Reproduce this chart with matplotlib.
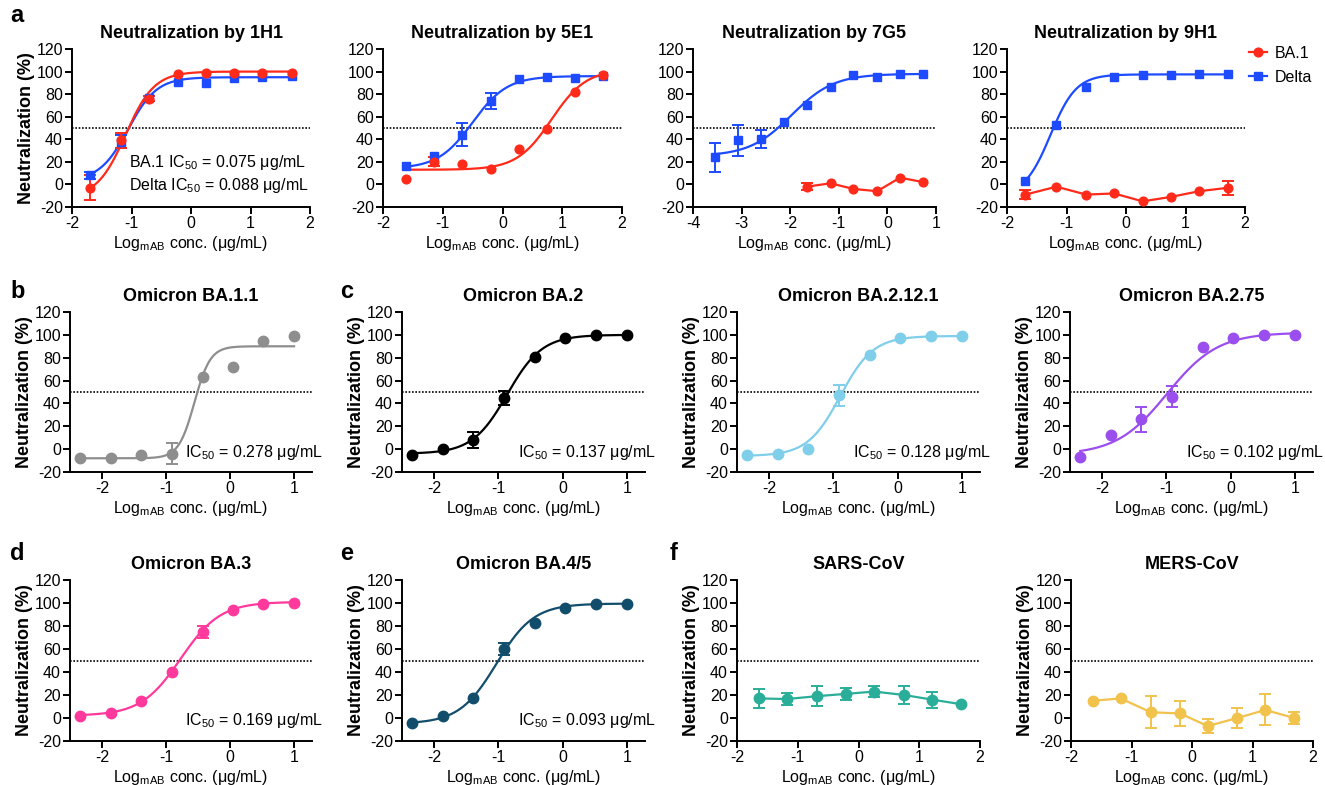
import numpy as np
import matplotlib
matplotlib.use('Agg')
import matplotlib.pyplot as plt
from matplotlib.transforms import blended_transform_factory

plt.rcParams['font.family'] = ['Liberation Sans', 'DejaVu Sans']
plt.rcParams['mathtext.fontset'] = 'custom'
plt.rcParams['mathtext.rm'] = 'Liberation Sans'
plt.rcParams['mathtext.it'] = 'Liberation Sans:italic'
plt.rcParams['mathtext.bf'] = 'Liberation Sans:bold'
plt.rcParams['axes.unicode_minus'] = False

# ---------------- data ----------------
# Row a: four antibodies, BA.1 and Delta
x_1h1 = [-1.70, -1.17, -0.70, -0.22, 0.25, 0.73, 1.20, 1.70]
ba1_1h1 = [-3, 39, 76, 98, 99, 99, 99, 99]
ba1_1h1_err = [11, 7, 2, 0, 0, 0, 0, 0]
delta_1h1 = [8, 38, 77, 91, 90, 94, 95, 96]
delta_1h1_err = [3, 6, 0, 0, 0, 0, 0, 0]
fit_1h1_ba1 = [-12, 100, -1.10, 1.8]     # bottom, top, logIC50, hill
fit_1h1_delta = [3, 95, -1.056, 1.8]

x_5e1 = [-1.62, -1.15, -0.68, -0.20, 0.27, 0.74, 1.22, 1.69]
ba1_5e1 = [5, 20, 18, 14, 31, 49, 82, 97]
ba1_5e1_err = [0, 4, 0, 0, 0, 0, 0, 0]
delta_5e1 = [16, 25, 44, 74, 93, 95, 94, 96]
delta_5e1_err = [0, 0, 10, 7, 0, 0, 0, 0]
fit_5e1_ba1 = [13, 102, 0.82, 1.5]
fit_5e1_delta = [14, 96, -0.50, 1.5]

x_7g5_delta = [-3.55, -3.07, -2.60, -2.13, -1.66, -1.17, -0.70, -0.21, 0.26, 0.74]
delta_7g5 = [24, 39, 40, 55, 70, 86, 97, 95, 98, 98]
delta_7g5_err = [13, 14, 8, 0, 0, 0, 0, 0, 0, 0]
fit_7g5_delta = [25, 98, -1.97, 1.0]
x_7g5_ba1 = [-1.66, -1.17, -0.70, -0.21, 0.26, 0.74]
ba1_7g5 = [-2, 1, -4, -6, 6, 2]
ba1_7g5_err = [3, 0, 0, 0, 0, 0]

x_9h1 = [-1.69, -1.17, -0.67, -0.20, 0.28, 0.76, 1.23, 1.71]
ba1_9h1 = [-9, -2, -9, -8, -15, -11, -6, -3]
ba1_9h1_err = [4, 0, 0, 0, 0, 0, 0, 6]
delta_9h1 = [3, 53, 86, 95, 97, 97, 98, 98]
delta_9h1_err = [0, 0, 0, 0, 0, 0, 0, 0]
fit_9h1_delta = [-10, 97.5, -1.27, 2.0]

# Rows b-e: 3-fold dilutions
x_omicron = [-2.34, -1.86, -1.39, -0.91, -0.43, 0.04, 0.52, 1.00]
ba11 = [-8, -8, -5, -4, 63, 72, 95, 99]
ba11_err = [0, 0, 0, 9, 0, 0, 0, 0]
fit_ba11 = [-8, 90, -0.556, 3.5]
ba2 = [-5, 0, 8, 45, 81, 97, 99.5, 100]
ba2_err = [0, 0, 7, 6, 0, 0, 0, 0]
fit_ba2 = [-4, 100, -0.863, 1.6]
ba2121 = [-5, -4, 0, 47, 82, 97, 99, 99]
ba2121_err = [0, 0, 0, 9, 0, 0, 0, 0]
fit_ba2121 = [-6, 99, -0.893, 1.7]
ba275 = [-7, 12, 26, 46, 89, 97, 99.5, 100]
ba275_err = [0, 0, 11, 9, 0, 0, 0, 0]
fit_ba275 = [-5, 102, -0.99, 1.1]
ba3 = [2, 4, 15, 40, 75, 94, 99.5, 100]
ba3_err = [0, 0, 0, 0, 5, 0, 0, 0]
fit_ba3 = [2, 101, -0.772, 1.4]
ba45 = [-4, 2, 17, 60, 83, 96, 99, 99.5]
ba45_err = [0, 0, 0, 5, 0, 0, 0, 0]
fit_ba45 = [-5, 99.5, -1.03, 1.5]

# Row f
x_cov = [-1.64, -1.18, -0.68, -0.20, 0.26, 0.75, 1.21, 1.69]
sars = [17, 16.5, 19, 21, 23, 20, 16, 12]
sars_err = [8, 5, 8.5, 5, 5, 8, 7, 0]
mers = [15, 17, 5, 4, -7, 0, 7, 0]
mers_err = [0, 0, 14, 11, 6, 9, 13.5, 5]

ic50_text = {
    'ba11': '0.278', 'ba2': '0.137', 'ba2121': '0.128', 'ba275': '0.102',
    'ba3': '0.169', 'ba45': '0.093', 'ba1_1h1': '0.075', 'delta_1h1': '0.088'}

# ---------------- style ----------------
RED = '#FF2A1A'
BLUE = '#1E4BFF'
GRAY = '#8E8E8E'
BLACK = '#000000'
LBLUE = '#7FCEEA'
PURPLE = '#9A4EEE'
PINK = '#FF3A9C'
TEAL = '#124E6C'
GREEN = '#2BAE99'
YELLOW = '#F1C24C'

W, H = 1325, 785
fig = plt.figure(figsize=(W / 100, H / 100), dpi=100)

XLABEL = r'Log$_{\mathregular{mAB}}$ conc. (μg/mL)'
YLABEL = 'Neutralization (%)'
TICK_FS = 11.5
TXT_FS = 11.5


def add_ax(l, t, r, b):
    return fig.add_axes([l / W, 1 - b / H, (r - l) / W, (b - t) / H])


def style(ax, xlim, xticks, title, ylabel=True):
    ax.set_xlim(*xlim)
    ax.set_ylim(-20, 120)
    ax.set_xticks(xticks)
    ax.set_yticks(range(-20, 121, 20))
    for s in ['top', 'right']:
        ax.spines[s].set_visible(False)
    for s in ['left', 'bottom']:
        ax.spines[s].set_linewidth(1.4)
    ax.tick_params(width=1.4, length=5, labelsize=TICK_FS, pad=1.5)
    ax.axhline(50, color='black', ls=(0, (1, 1)), lw=1.2, zorder=1)
    ax.set_title(title, fontsize=13, fontweight='bold', pad=8)
    ax.set_xlabel(XLABEL, fontsize=11.5, labelpad=2)
    if ylabel:
        ax.set_ylabel(YLABEL, fontsize=13, fontweight='bold', labelpad=1)


def logistic(x, p):
    bottom, top, c, h = p
    return bottom + (top - bottom) / (1 + 10 ** (h * (c - x)))


def fit_series(ax, x, y, err, fit, color, marker, ms):
    xs = np.linspace(min(x), max(x), 300)
    ax.plot(xs, logistic(xs, fit), color=color, lw=1.6, zorder=2)
    ax.plot(x, y, ls='none', marker=marker, color=color, ms=ms, zorder=3)
    errbars(ax, x, y, err, color)


def line_series(ax, x, y, err, color, marker, ms):
    ax.plot(x, y, color=color, marker=marker, ms=ms, lw=1.6, zorder=3)
    errbars(ax, x, y, err, color)


def errbars(ax, x, y, err, color):
    xe = [a for a, e in zip(x, err) if e > 0]
    ye = [b for b, e in zip(y, err) if e > 0]
    ee = [e for e in err if e > 0]
    if ee:
        ax.errorbar(xe, ye, yerr=ee, fmt='none', ecolor=color, elinewidth=1.4,
                    capsize=4, capthick=1.4, zorder=2.5)


def ic50(ax, label, y, xfrac=1.045):
    tr = blended_transform_factory(ax.transAxes, ax.transData)
    ax.text(xfrac, y, r'IC$_{\mathregular{50}}$ = ' + label + ' μg/mL',
            transform=tr, ha='right', va='center', fontsize=TXT_FS)


MS1 = 6.3
MS2 = 7.5

# ---- row a ----
ax = add_ax(72, 49, 310, 207)
style(ax, (-2, 2), [-2, -1, 0, 1, 2], 'Neutralization by 1H1')
fit_series(ax, x_1h1, delta_1h1, delta_1h1_err, fit_1h1_delta, BLUE, 's', MS1)
fit_series(ax, x_1h1, ba1_1h1, ba1_1h1_err, fit_1h1_ba1, RED, 'o', MS1)
ax.text(-1.04, 19, r'BA.1 IC$_{\mathregular{50}}$ = ' + ic50_text['ba1_1h1'] + ' μg/mL',
        fontsize=TXT_FS, va='center')
ax.text(-1.04, -1, r'Delta IC$_{\mathregular{50}}$ = ' + ic50_text['delta_1h1'] + ' μg/mL',
        fontsize=TXT_FS, va='center')

ax = add_ax(383, 49, 622, 207)
style(ax, (-2, 2), [-2, -1, 0, 1, 2], 'Neutralization by 5E1', ylabel=False)
fit_series(ax, x_5e1, delta_5e1, delta_5e1_err, fit_5e1_delta, BLUE, 's', MS1)
fit_series(ax, x_5e1, ba1_5e1, ba1_5e1_err, fit_5e1_ba1, RED, 'o', MS1)

ax = add_ax(693, 49, 936, 207)
style(ax, (-4, 1), [-4, -3, -2, -1, 0, 1], 'Neutralization by 7G5', ylabel=False)
fit_series(ax, x_7g5_delta, delta_7g5, delta_7g5_err, fit_7g5_delta, BLUE, 's', MS1)
line_series(ax, x_7g5_ba1, ba1_7g5, ba1_7g5_err, RED, 'o', MS1)

ax = add_ax(1007, 49, 1245, 207)
style(ax, (-2, 2), [-2, -1, 0, 1, 2], 'Neutralization by 9H1', ylabel=False)
fit_series(ax, x_9h1, delta_9h1, delta_9h1_err, fit_9h1_delta, BLUE, 's', MS1)
line_series(ax, x_9h1, ba1_9h1, ba1_9h1_err, RED, 'o', MS1)
h1, = ax.plot([], [], color=RED, marker='o', ms=MS1, lw=1.6, label='BA.1')
h2, = ax.plot([], [], color=BLUE, marker='s', ms=MS1, lw=1.6, label='Delta')
ax.legend(handles=[h1, h2], loc='upper left', bbox_to_anchor=(1.01, 1.03),
          frameon=False, fontsize=11.5, handlelength=1.1, handletextpad=0.5,
          labelspacing=0.55, borderaxespad=0, borderpad=0.1)

# ---- rows b-e ----
XL2 = (-2.5, 1.28)
XT2 = [-2, -1, 0, 1]
row2 = [
    ((70, 312, 312, 472), 'Omicron BA.1.1', ba11, ba11_err, fit_ba11, GRAY, ic50_text['ba11'], -3),
    ((402, 312, 645, 472), 'Omicron BA.2', ba2, ba2_err, fit_ba2, BLACK, ic50_text['ba2'], -3),
    ((737, 312, 980, 472), 'Omicron BA.2.12.1', ba2121, ba2121_err, fit_ba2121, LBLUE, ic50_text['ba2121'], -3),
    ((1070, 312, 1313, 472), 'Omicron BA.2.75', ba275, ba275_err, fit_ba275, PURPLE, ic50_text['ba275'], -3),
    ((70, 580, 312, 741), 'Omicron BA.3', ba3, ba3_err, fit_ba3, PINK, ic50_text['ba3'], -2),
    ((402, 580, 645, 741), 'Omicron BA.4/5', ba45, ba45_err, fit_ba45, TEAL, ic50_text['ba45'], -2),
]
for (l, t, r, b), title, y, err, fit, col, lab, ty in row2:
    ax = add_ax(l, t, r, b)
    style(ax, XL2, XT2, title)
    fit_series(ax, x_omicron, y, err, fit, col, 'o', MS2)
    ic50(ax, lab, ty)

# ---- row f ----
ax = add_ax(737, 580, 980, 741)
style(ax, (-2, 2), [-2, -1, 0, 1, 2], 'SARS-CoV')
line_series(ax, x_cov, sars, sars_err, GREEN, 'o', MS2)
ax = add_ax(1071, 580, 1313, 741)
style(ax, (-2, 2), [-2, -1, 0, 1, 2], 'MERS-CoV')
line_series(ax, x_cov, mers, mers_err, YELLOW, 'o', MS2)

# panel letters
for letter, px, py in [('a', 10, 16), ('b', 10, 292), ('c', 340, 292),
                       ('d', 10, 553), ('e', 340, 553), ('f', 670, 553)]:
    fig.text(px / W, 1 - py / H, letter, fontsize=17, fontweight='bold',
             va='center', ha='left')

fig.savefig('out.png', dpi=100)
